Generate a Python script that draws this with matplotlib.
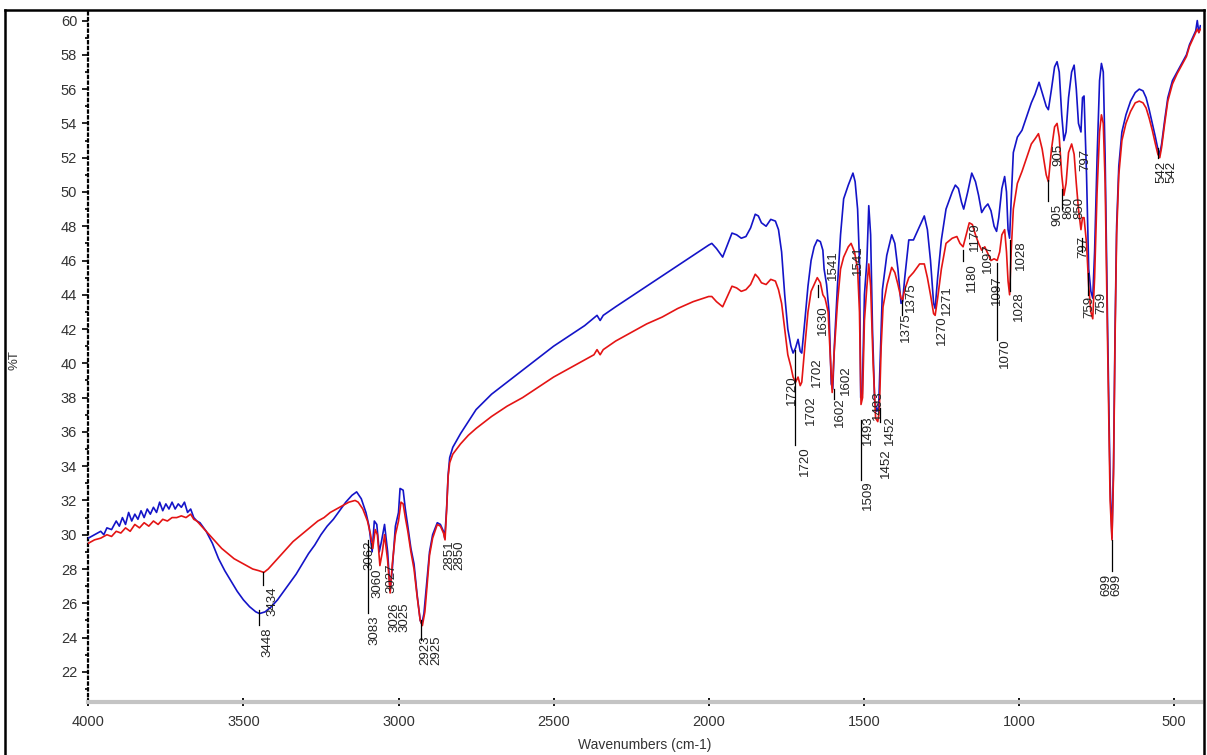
import numpy as np
import matplotlib
matplotlib.use("Agg")
import matplotlib.pyplot as plt
from matplotlib.ticker import MultipleLocator
from matplotlib.lines import Line2D

plt.rcParams['font.family'] = ['Liberation Sans', 'DejaVu Sans']

# ---------------- data ----------------
blue_wn = [4000,3980,3960,3950,3940,3925,3910,3900,3890,3880,3870,3860,3850,3840,3830,3820,3810,3800,
           3790,3780,3770,3760,3750,3740,3730,3720,3710,3700,3690,3680,3670,3660,3650,3640,3620,3600,
           3580,3560,3540,3520,3500,3480,3460,3448,3430,3410,3390,3370,3350,3330,3310,3290,3270,3250,
           3230,3210,3190,3170,3150,3135,3120,3105,3095,3085,3078,3070,3062,3055,3045,3035,3027,3020,
           3010,3000,2995,2985,2978,2970,2960,2950,2940,2930,2925,2918,2910,2900,2890,2875,2865,2855,
           2851,2845,2840,2835,2825,2800,2775,2750,2700,2650,2600,2550,2500,2450,2400,2360,2350,2340,
           2300,2250,2200,2150,2100,2050,2000,1990,1975,1955,1940,1925,1910,1895,1880,1865,1850,1840,
           1830,1815,1800,1785,1775,1765,1755,1745,1735,1728,1720,1712,1705,1700,1690,1680,1670,1660,
           1650,1640,1632,1628,1620,1612,1605,1600,1595,1585,1575,1565,1550,1535,1528,1520,1514,1510,
           1505,1498,1490,1484,1478,1472,1465,1458,1452,1446,1440,1426,1410,1400,1390,1380,1375,1368,
           1355,1340,1320,1305,1295,1285,1275,1270,1262,1250,1235,1215,1205,1195,1185,1178,1165,1152,
           1140,1130,1120,1110,1100,1090,1080,1072,1065,1055,1046,1040,1035,1030,1025,1018,1005,990,
           975,960,948,935,925,912,905,895,885,877,870,862,855,848,840,830,822,815,808,800,795,790,
           782,775,768,762,756,748,740,734,728,722,714,706,700,695,690,685,678,668,655,640,625,612,
           600,590,580,570,560,552,546,540,530,520,505,490,475,460,450,440,430,425,420,415]
blue_T = [29.8,30.0,30.2,30.0,30.4,30.3,30.8,30.5,31.0,30.6,31.3,30.8,31.2,30.9,31.4,31.0,31.5,31.2,
          31.6,31.3,31.9,31.4,31.8,31.5,31.9,31.5,31.8,31.6,31.9,31.3,31.5,31.0,30.8,30.7,30.2,29.5,
          28.6,27.9,27.3,26.7,26.2,25.8,25.5,25.4,25.5,25.8,26.2,26.7,27.2,27.7,28.3,28.9,29.4,30.0,
          30.5,30.9,31.4,31.9,32.3,32.5,32.1,31.3,30.5,29.0,30.8,30.6,29.0,29.6,30.6,29.0,26.7,28.0,
          30.5,31.3,32.7,32.6,31.5,30.5,29.2,28.3,26.5,25.0,24.8,25.4,27.0,29.0,30.0,30.7,30.6,30.2,
          29.8,31.5,33.5,34.5,35.1,35.9,36.6,37.3,38.2,38.9,39.6,40.3,41.0,41.6,42.2,42.8,42.5,42.8,
          43.3,43.9,44.5,45.1,45.7,46.3,46.9,47.0,46.7,46.2,46.9,47.6,47.5,47.3,47.4,47.9,48.7,48.6,
          48.2,48.0,48.4,48.3,47.8,46.5,44.0,42.0,41.0,40.6,40.9,41.4,40.7,40.6,42.5,44.5,46.0,46.8,
          47.2,47.1,46.6,45.5,44.6,43.0,38.8,38.5,41.0,44.5,47.5,49.6,50.4,51.1,50.6,49.0,46.0,38.0,
          38.2,44.0,46.0,49.2,47.5,42.0,37.8,37.2,37.5,41.0,44.3,46.3,47.5,47.0,45.5,43.5,43.6,45.0,
          47.2,47.2,48.0,48.6,47.8,46.0,43.5,43.2,45.0,47.2,49.0,50.0,50.4,50.2,49.4,49.0,50.0,51.1,
          50.6,49.8,48.8,49.1,49.3,48.9,48.0,47.7,48.5,50.2,50.9,50.0,47.8,47.3,49.5,52.3,53.2,53.6,
          54.4,55.2,55.7,56.4,55.8,55.0,54.8,56.0,57.3,57.6,57.0,54.5,53.0,53.5,55.5,57.0,57.4,56.0,
          54.0,53.5,55.5,55.6,51.0,45.5,44.2,43.8,46.5,52.0,56.5,57.5,57.0,52.0,42.0,33.0,29.8,34.0,
          42.0,48.0,51.5,53.5,54.5,55.3,55.8,56.0,55.9,55.5,54.8,54.0,53.2,52.5,52.2,52.8,54.2,55.5,
          56.5,57.0,57.5,58.0,58.6,59.0,59.4,60.0,59.3,59.7]

red_wn = [4000,3980,3960,3940,3925,3910,3895,3880,3865,3850,3835,3820,3805,3790,3775,3760,3745,3730,
          3715,3700,3685,3670,3660,3650,3630,3610,3590,3570,3550,3530,3510,3490,3470,3450,3434,3420,
          3400,3380,3360,3340,3320,3300,3280,3260,3240,3220,3200,3180,3160,3140,3130,3115,3100,3090,
          3083,3075,3068,3060,3052,3045,3035,3027,3020,3010,3000,2992,2985,2978,2970,2960,2950,2940,
          2930,2923,2915,2908,2900,2890,2875,2865,2855,2850,2845,2840,2835,2825,2800,2775,2750,2700,
          2650,2600,2550,2500,2450,2400,2370,2360,2350,2340,2300,2250,2200,2150,2100,2050,2000,1990,
          1975,1955,1940,1925,1910,1895,1880,1865,1850,1840,1830,1815,1800,1785,1775,1765,1755,1745,
          1735,1728,1720,1712,1705,1700,1690,1680,1670,1660,1650,1640,1632,1625,1615,1607,1602,1596,
          1585,1575,1565,1550,1541,1530,1520,1514,1509,1504,1498,1490,1484,1478,1470,1462,1455,1450,
          1444,1438,1425,1410,1400,1390,1380,1375,1368,1355,1340,1320,1305,1295,1285,1275,1270,1262,
          1250,1235,1215,1200,1190,1180,1170,1160,1150,1140,1130,1120,1110,1100,1090,1080,1070,1062,
          1055,1046,1040,1035,1030,1025,1018,1005,990,975,960,948,937,925,912,905,895,885,877,870,
          862,855,848,840,830,822,815,808,800,795,790,782,775,768,762,756,748,740,734,728,722,714,
          706,700,695,690,685,678,668,655,640,625,612,600,590,580,570,560,552,546,540,530,520,505,
          490,475,460,450,440,430,425,420,415]
red_T = [29.5,29.7,29.8,30.0,29.9,30.2,30.1,30.4,30.2,30.6,30.4,30.7,30.5,30.8,30.6,30.9,30.8,31.0,
         31.0,31.1,31.0,31.2,30.9,30.8,30.4,30.0,29.6,29.2,28.9,28.6,28.4,28.2,28.0,27.9,27.8,28.0,
         28.4,28.8,29.2,29.6,29.9,30.2,30.5,30.8,31.0,31.3,31.5,31.7,31.9,32.0,31.9,31.5,30.8,30.0,
         29.2,30.3,30.0,28.2,29.0,30.0,28.5,26.6,28.3,30.0,30.8,31.9,31.8,31.0,30.2,29.0,28.0,26.4,
         25.0,24.7,25.5,27.0,28.8,29.8,30.6,30.5,30.1,29.7,31.4,33.4,34.2,34.7,35.3,35.8,36.2,36.9,
         37.5,38.0,38.6,39.2,39.7,40.2,40.5,40.8,40.5,40.8,41.3,41.8,42.3,42.7,43.2,43.6,43.9,43.9,
         43.6,43.3,43.9,44.5,44.4,44.2,44.3,44.6,45.2,45.0,44.7,44.6,44.9,44.8,44.3,43.5,42.0,40.5,
         39.8,39.2,38.9,39.2,38.7,38.9,41.0,43.0,44.2,44.6,45.0,44.7,44.0,43.8,43.0,40.0,38.3,40.5,
         43.5,45.5,46.2,46.8,47.0,46.5,45.5,43.0,37.6,38.0,42.5,44.5,45.8,44.5,40.0,36.8,36.6,37.2,
         41.0,43.3,44.6,45.6,45.3,44.6,43.8,43.7,44.3,45.0,45.3,45.8,45.8,45.0,44.0,42.9,42.8,43.8,
         45.5,47.0,47.3,47.4,47.0,46.8,47.5,48.2,48.1,47.5,47.0,46.6,46.8,46.4,46.0,46.1,46.0,46.5,
         47.5,47.8,46.5,44.8,44.0,46.5,49.0,50.5,51.2,52.0,52.8,53.1,53.4,52.5,51.0,50.6,52.5,53.8,54.0,53.2,
         51.0,49.8,50.5,52.3,52.8,52.2,50.5,49.0,47.8,48.5,48.5,47.0,44.5,43.0,42.6,45.0,50.0,53.5,54.5,54.0,50.5,41.0,
         32.0,29.7,33.5,41.5,47.5,51.0,53.0,54.0,54.7,55.2,55.3,55.2,54.9,54.3,53.6,52.8,52.2,52.0,52.6,54.0,55.3,56.3,
         56.9,57.4,57.9,58.5,58.9,59.3,59.5,59.3,59.5]

# peak annotations (text, x position in cm-1, %T of label centre)
peak_text = ["3448","3434","3083","3062","3060","3027","3026","3025","2925","2923","2851","2850",
             "1720","1720","1702","1702","1630","1602","1602","1541","1541","1509","1493","1493",
             "1452","1452","1375","1375","1270","1271","1180","1179","1097","1097","1070","1028",
             "1028","905","905","860","850","797","797","759","759","699","699","542","542"]
peak_x = [3421,3405,3076,3094,3068,3022,3014,2981,2878,2912,2836,2803,
          1690,1732,1670,1651,1631,1577,1557,1600,1519,1487,1486,1455,
          1429,1416,1364,1348,1248,1232,1151,1141,1099,1070,1045,1000,
          993,877,874,840,806,793,787,774,733,718,686,541,508]
peak_y = [23.74,26.13,24.44,28.82,27.18,27.47,25.20,25.20,23.27,23.27,28.82,28.82,
          34.30,38.44,37.28,39.50,42.53,37.16,39.03,45.74,46.03,32.32,36.11,37.57,
          34.18,36.11,42.12,43.87,41.94,43.69,44.98,47.37,46.14,44.28,40.60,43.34,
          46.32,48.65,52.15,49.06,49.06,46.78,51.86,43.30,43.50,27.06,27.06,51.16,51.16]

# leader lines (x in cm-1, top %T, bottom %T)
lead_x = [3450,3437,3098,2928,1722,1510,1377,1072,1030,905,860,797,778,700,552,1648,1595,1448,1180]
lead_top = [25.6,27.8,29.7,25.0,40.78,36.7,43.69,45.85,47.2,50.7,50.2,47.3,45.3,29.7,52.56,44.6,38.5,37.4,46.6]
lead_bot = [24.73,27.05,25.43,23.85,35.23,33.19,42.8,41.36,44.2,49.5,49.0,46.5,44.0,27.9,51.98,43.9,37.9,36.6,46.0]

# ---------------- figure ----------------
W, H = 1207, 755
fig = plt.figure(figsize=(W / 100, H / 100), dpi=100)
fig.patch.set_facecolor("white")
ax = fig.add_axes([88.3 / W, 1 - 702 / H, (1201 - 88.3) / W, (702 - 12) / H])

ax.plot(blue_wn, blue_T, color="#1414c8", lw=1.2, zorder=3)
ax.plot(red_wn, red_T, color="#e41414", lw=1.2, zorder=4)

for t, x, y in zip(peak_text, peak_x, peak_y):
    ax.text(x, y, t, rotation=90, ha="center", va="center", fontsize=9.5,
            color="#222222", zorder=5)
for x, y0, y1 in zip(lead_x, lead_top, lead_bot):
    ax.plot([x, x], [y0, y1], color="black", lw=0.9, zorder=5)

ax.set_xlim(4000, 413)
ax.set_ylim(20.24, 60.5)

ax.xaxis.set_major_locator(MultipleLocator(500))
ax.xaxis.set_minor_locator(MultipleLocator(100))
ax.yaxis.set_major_locator(MultipleLocator(2))
ax.yaxis.set_minor_locator(MultipleLocator(1))
ax.set_yticks(np.arange(22, 61, 2))

for s in ["top", "right"]:
    ax.spines[s].set_visible(False)
ax.spines["left"].set_linestyle((0, (1, 1.6)))
ax.spines["left"].set_linewidth(1.6)
ax.spines["left"].set_color("black")
ax.spines["bottom"].set_color("#c4c4c4")
ax.spines["bottom"].set_linewidth(3)

ax.tick_params(axis="y", which="major", length=4, width=1.2, direction="out",
               labelsize=10.5, pad=4, colors="black")
ax.tick_params(axis="y", which="minor", length=2, width=1.2, direction="out")
ax.tick_params(axis="x", which="major", length=6, width=1.3, direction="inout",
               labelsize=10.5, pad=6, color="black")
ax.tick_params(axis="x", which="minor", length=3, width=1.6, direction="inout", color="black")
for lab in ax.get_xticklabels() + ax.get_yticklabels():
    lab.set_color("#333333")

fig.text(15 / W, 1 - 360 / H, "%T", rotation=90, ha="center", va="center",
         fontsize=9.5, color="#333333")
fig.text(645 / W, 1 - 745 / H, "Wavenumbers (cm-1)", ha="center", va="center",
         fontsize=10, color="#333333")

# outer frame
fx0, fx1, fy0 = 5 / W, 1204 / W, 1 - 10 / H
for xs, ys in [([fx0, fx0], [0, fy0]), ([fx0, fx1], [fy0, fy0]), ([fx1, fx1], [fy0, 0])]:
    fig.add_artist(Line2D(xs, ys, color="black", lw=1.8, transform=fig.transFigure))

fig.savefig("out.png", dpi=100, facecolor="white")
